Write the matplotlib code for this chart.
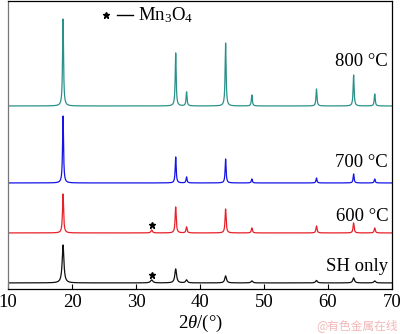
import numpy as np
import matplotlib
matplotlib.use("Agg")
import matplotlib.pyplot as plt

plt.rcParams['font.family'] = ['Liberation Serif', 'DejaVu Serif']
plt.rcParams['mathtext.fontset'] = 'custom'
plt.rcParams['mathtext.rm'] = 'Liberation Serif'
plt.rcParams['mathtext.it'] = 'Liberation Serif:italic'

# peak positions (2theta, deg)
peaks = [18.6, 36.2, 37.9, 44.0, 48.1, 58.2, 64.0, 67.3]
mn3o4_peak = 32.45

# peak heights above each baseline (arbitrary units)
h_800 = [87, 53, 14, 63, 11, 17, 31, 12]
h_700 = [67, 26, 6, 24, 4, 5, 9, 4]
h_600 = [39, 26, 6, 24, 5, 7, 10, 5]
h_sh = [38, 14, 3, 7, 2, 2.5, 5, 2]
h_mn3o4 = {"600": 3, "SH": 3}

# baseline offsets for the stacked patterns
base = {"800": 183, "700": 106, "600": 56, "SH": 6}
fwhm = {"800": 0.18, "700": 0.18, "600": 0.2, "SH": 0.32}

labels = {"800": "800 °C", "700": "700 °C", "600": "600 °C", "SH": "SH only"}
label_y = {"800": 227, "700": 126, "600": 72, "SH": 22}
colors = {"800": "#2a918a", "700": "#1414e6", "600": "#e8202a", "SH": "#111111"}
xticks = [10, 20, 30, 40, 50, 60, 70]

tt = np.arange(10, 70.001, 0.02)


def pattern(heights, w, extra=0):
    y = np.zeros_like(tt)
    for p, h in zip(peaks, heights):
        y += h / (1 + ((tt - p) / (w / 2)) ** 2)
    if extra:
        y += extra / (1 + ((tt - mn3o4_peak) / (w / 1.5)) ** 2)
    return y


fig = plt.figure(figsize=(4, 3.34), dpi=100)
ax = fig.add_axes([0.02, 0.135, 0.96, 0.862])

series = {"800": h_800, "700": h_700, "600": h_600, "SH": h_sh}
for key, hs in series.items():
    extra = h_mn3o4.get(key, 0)
    ax.plot(tt, base[key] + pattern(hs, fwhm[key], extra), color=colors[key], lw=0.9)
    ax.text(69.4, label_y[key], labels[key], ha='right', va='center', fontsize=13.5)

# Mn3O4 markers
ax.plot([mn3o4_peak, mn3o4_peak], [base["600"] + 8, base["SH"] + 8], ls='none',
        marker='*', color='k', ms=5)

# legend-like annotation at top
ax.plot([25.3], [274], marker='*', color='k', ms=4.5, ls='none')
ax.plot([27.0, 29.5], [274, 274], color='k', lw=1)
ax.text(30.3, 274, r'Mn$_3$O$_4$', ha='left', va='center', fontsize=13.5)

ax.set_xlim(10, 70)
ax.set_ylim(0, 288)
ax.set_xticks(xticks)
ax.set_yticks([])
ax.tick_params(axis='x', direction='in', length=3.5, width=0.8, labelsize=13.5, pad=4)
ax.spines['left'].set_color('#777777')
for s in ax.spines.values():
    s.set_linewidth(0.9)
ax.set_xlabel(r'$2\theta$/(°)', fontsize=13.5, labelpad=1)

fig.text(0.995, 0.025, '@有色金属在线', ha='right', va='center', fontsize=8.5,
         color='#f2b8b8', family=['Noto Sans CJK SC', 'DejaVu Sans'])

fig.savefig('out.png', dpi=100)
